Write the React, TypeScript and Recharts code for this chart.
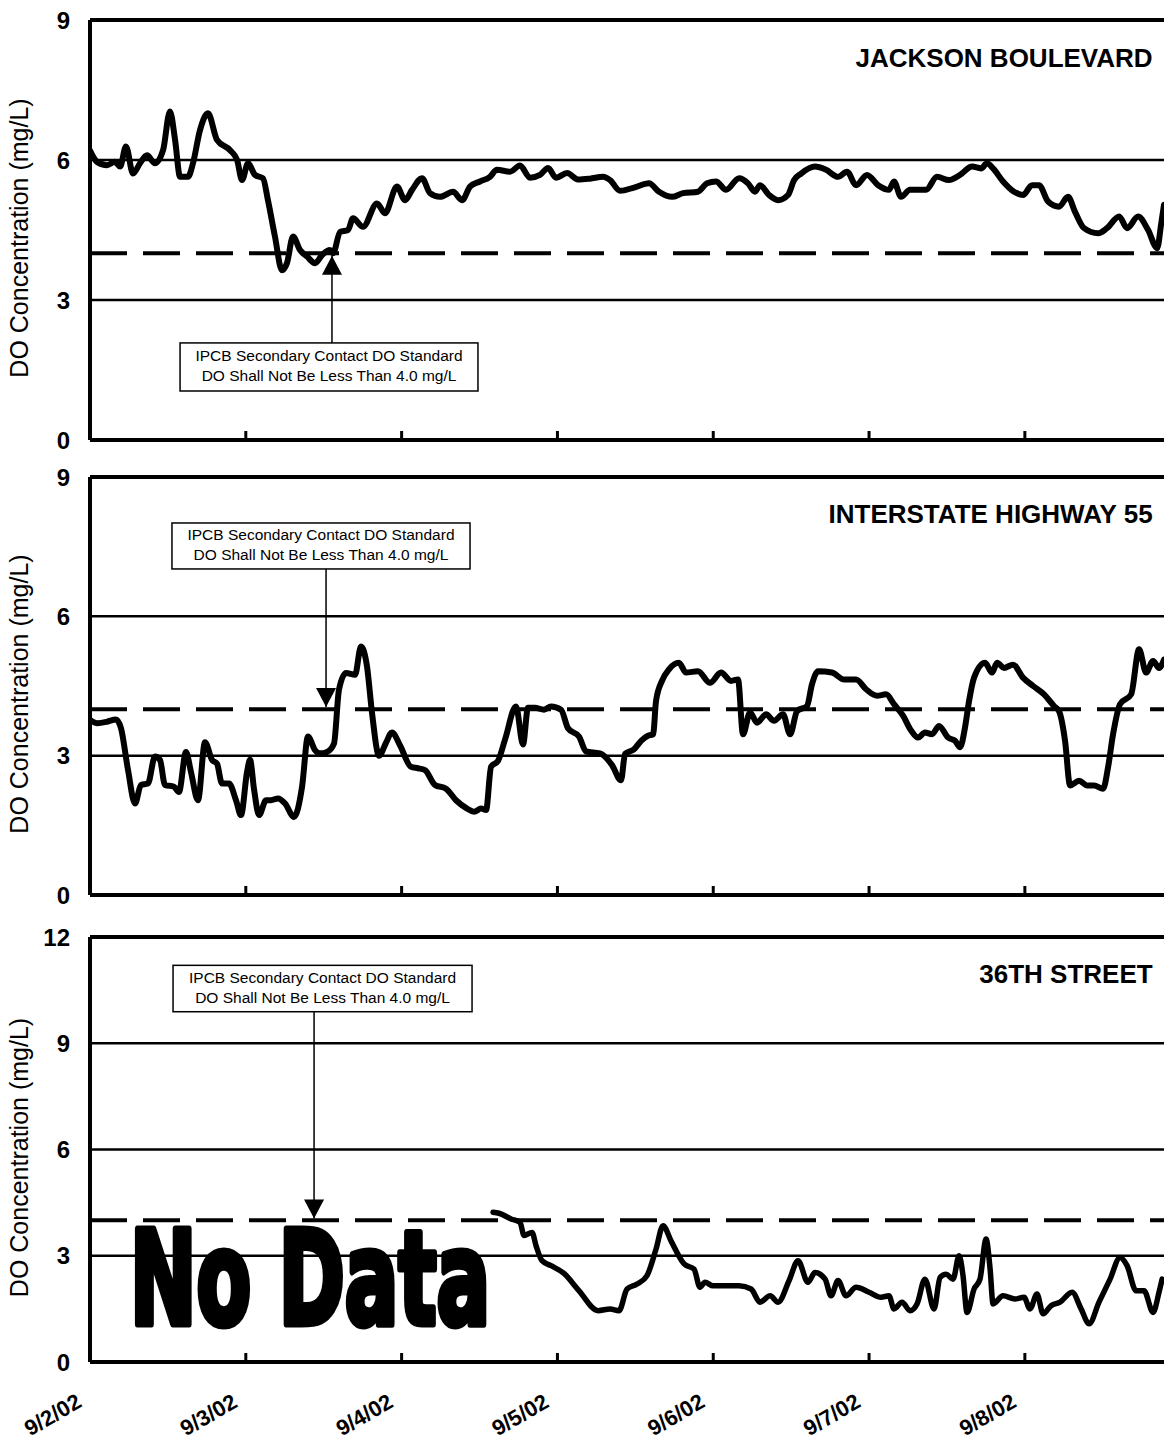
import React from "react";
import {
  LineChart,
  Line,
  XAxis,
  YAxis,
  ReferenceLine,
  ReferenceArea,
  ReferenceDot,
} from "recharts";

const FONT = "Arial, 'Liberation Sans', Helvetica, sans-serif";

// x is days since 9/2/02 00:00; the scan is cut just before 9/9/02
const DAY_END = 6.893;
const dayTicks = [0, 1, 2, 3, 4, 5, 6];
const dayLabels = ["9/2/02", "9/3/02", "9/4/02", "9/5/02", "9/6/02", "9/7/02", "9/8/02"];

const stationNames = ["JACKSON BOULEVARD", "INTERSTATE HIGHWAY 55", "36TH STREET"];
const noteLines = ["IPCB Secondary Contact DO Standard", "DO Shall Not Be Less Than 4.0 mg/L"];
const doStandard = 4.0;

const jacksonTimes = [
  0, 0.045, 0.109, 0.16, 0.193, 0.231, 0.276, 0.321, 0.366, 0.417,
  0.469, 0.513, 0.546, 0.578, 0.629, 0.661, 0.706, 0.757, 0.815, 0.899,
  0.944, 0.976, 1.014, 1.059, 1.11, 1.142, 1.187, 1.232, 1.264, 1.303,
  1.348, 1.393, 1.444, 1.489, 1.54, 1.56, 1.605, 1.656, 1.688, 1.752,
  1.842, 1.893, 1.97, 2.022, 2.067, 2.131, 2.182, 2.246, 2.33, 2.388,
  2.439, 2.503, 2.567, 2.612, 2.696, 2.76, 2.824, 2.888, 2.94, 2.991,
  3.062, 3.132, 3.209, 3.293, 3.338, 3.402, 3.492, 3.588, 3.652, 3.736,
  3.806, 3.902, 3.96, 4.018, 4.082, 4.166, 4.223, 4.268, 4.3, 4.358,
  4.416, 4.48, 4.519, 4.564, 4.653, 4.724, 4.801, 4.859, 4.917, 4.987,
  5.058, 5.128, 5.16, 5.205, 5.263, 5.366, 5.436, 5.513, 5.584, 5.661,
  5.719, 5.757, 5.796, 5.86, 5.931, 5.988, 6.046, 6.091, 6.149, 6.219,
  6.277, 6.322, 6.38, 6.47, 6.527, 6.605, 6.656, 6.727, 6.791, 6.849,
  6.874, 6.893,
];
const jacksonDO = [
  6.2, 5.96, 5.89, 5.96, 5.86, 6.29, 5.71, 5.93, 6.1, 5.93,
  6.21, 7.04, 6.43, 5.64, 5.64, 5.93, 6.64, 7.0, 6.43, 6.21,
  6.0, 5.57, 5.93, 5.68, 5.61, 5.14, 4.36, 3.64, 3.79, 4.36,
  4.07, 3.93, 3.79, 3.96, 4.07, 4.0, 4.46, 4.5, 4.75, 4.57,
  5.07, 4.86, 5.43, 5.14, 5.36, 5.61, 5.29, 5.21, 5.32, 5.14,
  5.43, 5.54, 5.64, 5.79, 5.75, 5.88, 5.62, 5.68, 5.83, 5.62,
  5.72, 5.58, 5.6, 5.64, 5.57, 5.34, 5.41, 5.5, 5.32, 5.21,
  5.29, 5.32, 5.5, 5.54, 5.36, 5.61, 5.5, 5.32, 5.46, 5.25,
  5.14, 5.25, 5.57, 5.71, 5.86, 5.79, 5.64, 5.75, 5.46, 5.68,
  5.46, 5.36, 5.54, 5.21, 5.36, 5.36, 5.64, 5.57, 5.68, 5.86,
  5.82, 5.93, 5.82, 5.54, 5.32, 5.25, 5.46, 5.46, 5.11, 5.0,
  5.21, 4.89, 4.54, 4.43, 4.54, 4.79, 4.54, 4.79, 4.5, 4.11,
  4.61, 5.04,
];

const i55Times = [
  0, 0.045, 0.109, 0.167, 0.199, 0.244, 0.289, 0.327, 0.372, 0.417,
  0.449, 0.481, 0.539, 0.571, 0.616, 0.648, 0.693, 0.738, 0.783, 0.815,
  0.847, 0.892, 0.937, 0.969, 1.008, 1.027, 1.053, 1.085, 1.13, 1.162,
  1.207, 1.252, 1.309, 1.361, 1.399, 1.444, 1.476, 1.521, 1.566, 1.598,
  1.643, 1.701, 1.739, 1.778, 1.81, 1.855, 1.9, 1.938, 1.99, 2.06,
  2.105, 2.15, 2.214, 2.285, 2.349, 2.42, 2.465, 2.51, 2.542, 2.574,
  2.619, 2.664, 2.734, 2.779, 2.811, 2.856, 2.914, 2.959, 3.023, 3.068,
  3.139, 3.184, 3.273, 3.35, 3.408, 3.434, 3.492, 3.537, 3.581, 3.614,
  3.633, 3.671, 3.716, 3.78, 3.825, 3.902, 3.979, 4.05, 4.114, 4.159,
  4.191, 4.236, 4.281, 4.339, 4.39, 4.448, 4.493, 4.538, 4.602, 4.634,
  4.673, 4.762, 4.84, 4.917, 4.981, 5.051, 5.109, 5.16, 5.218, 5.27,
  5.315, 5.359, 5.404, 5.449, 5.507, 5.552, 5.584, 5.616, 5.642, 5.674,
  5.745, 5.789, 5.822, 5.866, 5.924, 5.988, 6.053, 6.123, 6.187, 6.219,
  6.258, 6.29, 6.348, 6.399, 6.444, 6.502, 6.534, 6.566, 6.611, 6.682,
  6.733, 6.778, 6.823, 6.861, 6.893,
];
const i55DO = [
  3.77, 3.7, 3.73, 3.78, 3.59, 2.69, 1.97, 2.37, 2.4, 2.98,
  2.91, 2.37, 2.33, 2.22, 3.08, 2.65, 2.04, 3.29, 2.91, 2.83,
  2.4, 2.4, 2.04, 1.72, 2.65, 2.91, 2.27, 1.72, 2.04, 2.04,
  2.08, 1.97, 1.68, 2.33, 3.41, 3.12, 3.05, 3.08, 3.26, 4.42,
  4.78, 4.74, 5.35, 4.92, 3.92, 3.0, 3.28, 3.5, 3.22, 2.76,
  2.73, 2.69, 2.37, 2.29, 2.04, 1.86, 1.79, 1.86, 1.83, 2.76,
  2.89, 3.35, 4.06, 3.24, 4.03, 4.03, 3.99, 4.06, 3.99, 3.59,
  3.41, 3.09, 3.05, 2.8, 2.47, 3.04, 3.14, 3.32, 3.43, 3.46,
  4.18, 4.61, 4.86, 5.0, 4.79, 4.82, 4.57, 4.79, 4.61, 4.64,
  3.46, 3.93, 3.71, 3.89, 3.75, 3.89, 3.46, 3.96, 4.07, 4.54,
  4.82, 4.79, 4.64, 4.64, 4.43, 4.29, 4.32, 4.11, 3.86, 3.54,
  3.39, 3.5, 3.46, 3.64, 3.39, 3.32, 3.18, 3.61, 4.18, 4.68,
  5.0, 4.79, 5.0, 4.89, 4.96, 4.68, 4.5, 4.32, 4.07, 3.96,
  3.32, 2.36, 2.46, 2.36, 2.36, 2.29, 2.75, 3.46, 4.11, 4.32,
  5.29, 4.79, 5.04, 4.89, 5.07,
];

// 36th Street: no record before the evening of 9/4
const street36Times = [
  2.587, 2.625, 2.702, 2.76, 2.786, 2.837, 2.863, 2.901, 2.959, 3.042,
  3.139, 3.261, 3.338, 3.395, 3.447, 3.511, 3.575, 3.633, 3.678, 3.729,
  3.813, 3.877, 3.915, 3.947, 3.999, 4.095, 4.166, 4.243, 4.3, 4.365,
  4.416, 4.487, 4.544, 4.608, 4.653, 4.718, 4.756, 4.801, 4.852, 4.917,
  5.0, 5.077, 5.128, 5.16, 5.212, 5.263, 5.308, 5.359, 5.417, 5.456,
  5.494, 5.539, 5.578, 5.603, 5.629, 5.674, 5.712, 5.751, 5.777, 5.796,
  5.86, 5.937, 5.995, 6.033, 6.078, 6.117, 6.168, 6.226, 6.303, 6.361,
  6.412, 6.476, 6.547, 6.611, 6.656, 6.714, 6.765, 6.823, 6.861, 6.881,
];
const street36DO = [
  4.23, 4.2, 4.04, 3.94, 3.57, 3.66, 3.28, 2.86, 2.72, 2.5,
  2.01, 1.45, 1.5, 1.45, 2.06, 2.2, 2.44, 3.19, 3.85, 3.42,
  2.77, 2.62, 2.11, 2.25, 2.15, 2.15, 2.15, 2.06, 1.69, 1.87,
  1.69, 2.3, 2.86, 2.25, 2.53, 2.34, 1.87, 2.3, 1.87, 2.11,
  1.97, 1.83, 1.87, 1.5, 1.69, 1.45, 1.64, 2.34, 1.5, 2.39,
  2.48, 2.34, 3.0, 2.44, 1.4, 2.06, 2.34, 3.47, 2.62, 1.64,
  1.87, 1.78, 1.83, 1.5, 1.92, 1.36, 1.59, 1.69, 1.97, 1.5,
  1.08, 1.69, 2.34, 2.95, 2.72, 2.01, 2.01, 1.4, 1.97, 2.34,
];

const toRows = (times: number[], values: number[]) =>
  times.map((t, i) => ({ t, v: values[i] }));

type Note = {
  x1: number;
  x2: number;
  y1: number;
  y2: number;
  arrowX: number;
  tipY: number;
  up: boolean;
};

type PanelProps = {
  top: number;
  height: number;
  axisHeight: number;
  yMax: number;
  name: string;
  nameY: number;
  rows: { t: number; v: number }[];
  lineWidth: number;
  note: Note;
  showDates?: boolean;
  noData?: boolean;
};

function Panel({
  top,
  height,
  axisHeight,
  yMax,
  name,
  nameY,
  rows,
  lineWidth,
  note,
  showDates,
  noData,
}: PanelProps) {
  const yTicks = [];
  for (let v = 0; v <= yMax; v += 3) yTicks.push(v);
  const grid = yTicks.filter((v) => v > 0 && v < yMax);

  const renderTick = (p: any) => {
    const { x, y, payload } = p;
    const lx = x - 7;
    const ly = y + 44;
    return (
      <g>
        <line x1={x} x2={x} y1={y - 9} y2={y} stroke="#000" strokeWidth={3} />
        {showDates && (
          <text
            x={lx}
            y={ly}
            transform={`rotate(-30 ${lx} ${ly})`}
            textAnchor="end"
            fontFamily={FONT}
            fontWeight="bold"
            fontSize={22}
            fill="#000"
          >
            {dayLabels[dayTicks.indexOf(payload.value)]}
          </text>
        )}
      </g>
    );
  };

  const renderYLabel = (p: any) => {
    const vb = p.viewBox || { x: 0, y: 20, width: 90, height: 420 };
    const cx = vb.x + 28;
    const cy = vb.y + vb.height / 2 + 8;
    return (
      <text
        x={cx}
        y={cy}
        transform={`rotate(-90 ${cx} ${cy})`}
        textAnchor="middle"
        fontFamily={FONT}
        fontSize={25}
        fill="#000"
      >
        DO Concentration (mg/L)
      </text>
    );
  };

  return (
    <div style={{ position: "absolute", left: 0, top }}>
      <LineChart
        width={1164}
        height={height}
        data={rows}
        margin={{ top: 20, right: 0, bottom: 0, left: 0 }}
      >
        <XAxis
          dataKey="t"
          type="number"
          domain={[0, DAY_END]}
          ticks={dayTicks}
          interval={0}
          allowDataOverflow
          height={axisHeight}
          axisLine={{ stroke: "#000", strokeWidth: 4 }}
          tickLine={false}
          tickSize={0}
          tickMargin={0}
          tick={renderTick}
        />
        <YAxis
          type="number"
          domain={[0, yMax]}
          ticks={yTicks}
          interval={0}
          width={90}
          axisLine={{ stroke: "#000", strokeWidth: 4 }}
          tickLine={false}
          tickSize={0}
          tickMargin={20}
          tick={{ fontSize: 24, fontWeight: "bold", fill: "#000", fontFamily: FONT }}
          label={renderYLabel}
        />
        {grid.map((g) => (
          <ReferenceLine key={g} y={g} stroke="#000" strokeWidth={2.5} />
        ))}
        <ReferenceLine y={yMax} stroke="#000" strokeWidth={4} />
        <ReferenceLine
          y={doStandard}
          stroke="#000"
          strokeWidth={4}
          strokeDasharray="37 16"
        />
        <ReferenceLine
          segment={[
            { x: note.arrowX, y: note.up ? note.y2 : note.y1 },
            { x: note.arrowX, y: note.tipY },
          ]}
          stroke="#000"
          strokeWidth={1.5}
        />
        <ReferenceDot
          x={note.arrowX}
          y={note.tipY}
          shape={(p: any) => {
            const h = note.up ? 19 : -19;
            return (
              <path
                d={`M${p.cx},${p.cy} L${p.cx - 10},${p.cy + h} L${p.cx + 10},${p.cy + h} Z`}
                fill="#000"
              />
            );
          }}
        />
        <ReferenceArea
          x1={note.x1}
          x2={note.x2}
          y1={note.y1}
          y2={note.y2}
          shape={(p: any) => {
            const cx = p.x + p.width / 2;
            const cy = p.y + p.height / 2;
            return (
              <g>
                <rect
                  x={p.x}
                  y={p.y}
                  width={p.width}
                  height={p.height}
                  fill="#fff"
                  stroke="#000"
                  strokeWidth={1.5}
                />
                <text x={cx} y={cy - 6} textAnchor="middle" fontFamily={FONT} fontSize={15.5} fill="#000">
                  {noteLines[0]}
                </text>
                <text x={cx} y={cy + 14} textAnchor="middle" fontFamily={FONT} fontSize={15.5} fill="#000">
                  {noteLines[1]}
                </text>
              </g>
            );
          }}
        />
        <ReferenceDot
          x={6.82}
          y={nameY}
          shape={(p: any) => (
            <text
              x={p.cx}
              y={p.cy}
              textAnchor="end"
              fontFamily={FONT}
              fontWeight="bold"
              fontSize={26}
              fill="#000"
            >
              {name}
            </text>
          )}
        />
        {noData && (
          <ReferenceDot
            x={1.412}
            y={1.07}
            shape={(p: any) => (
              <text
                x={p.cx}
                y={p.cy}
                textAnchor="middle"
                fontFamily="'Liberation Sans Narrow', 'DejaVu Sans Condensed', Arial, sans-serif"
                fontWeight="bold"
                fontSize={130}
                textLength={360}
                lengthAdjust="spacingAndGlyphs"
                fill="#000"
                stroke="#000"
                strokeWidth={7}
                strokeLinejoin="round"
              >
                No Data
              </text>
            )}
          />
        )}
        <Line
          dataKey="v"
          type="monotone"
          stroke="#000"
          strokeWidth={lineWidth}
          strokeLinejoin="round"
          strokeLinecap="round"
          dot={false}
          activeDot={false}
          isAnimationActive={false}
        />
      </LineChart>
    </div>
  );
}

export default function App() {
  return (
    <div
      style={{
        position: "absolute",
        left: 0,
        top: 0,
        width: 1164,
        height: 1442,
        overflow: "hidden",
        background: "#fff",
      }}
    >
      <Panel
        top={0}
        height={460}
        axisHeight={20}
        yMax={9}
        name={stationNames[0]}
        nameY={8.0}
        rows={toRows(jacksonTimes, jacksonDO)}
        lineWidth={6}
        note={{ x1: 0.578, x2: 2.49, y1: 1.05, y2: 2.08, arrowX: 1.553, tipY: 3.95, up: true }}
      />
      <Panel
        top={457}
        height={458}
        axisHeight={20}
        yMax={9}
        name={stationNames[1]}
        nameY={8.0}
        rows={toRows(i55Times, i55DO)}
        lineWidth={6}
        note={{ x1: 0.526, x2: 2.439, y1: 7.02, y2: 8.01, arrowX: 1.515, tipY: 4.05, up: false }}
      />
      <Panel
        top={917}
        height={525}
        axisHeight={80}
        yMax={12}
        name={stationNames[2]}
        nameY={10.7}
        rows={toRows(street36Times, street36DO)}
        lineWidth={5.5}
        note={{ x1: 0.533, x2: 2.452, y1: 9.89, y2: 11.2, arrowX: 1.438, tipY: 4.05, up: false }}
        showDates
        noData
      />
    </div>
  );
}
